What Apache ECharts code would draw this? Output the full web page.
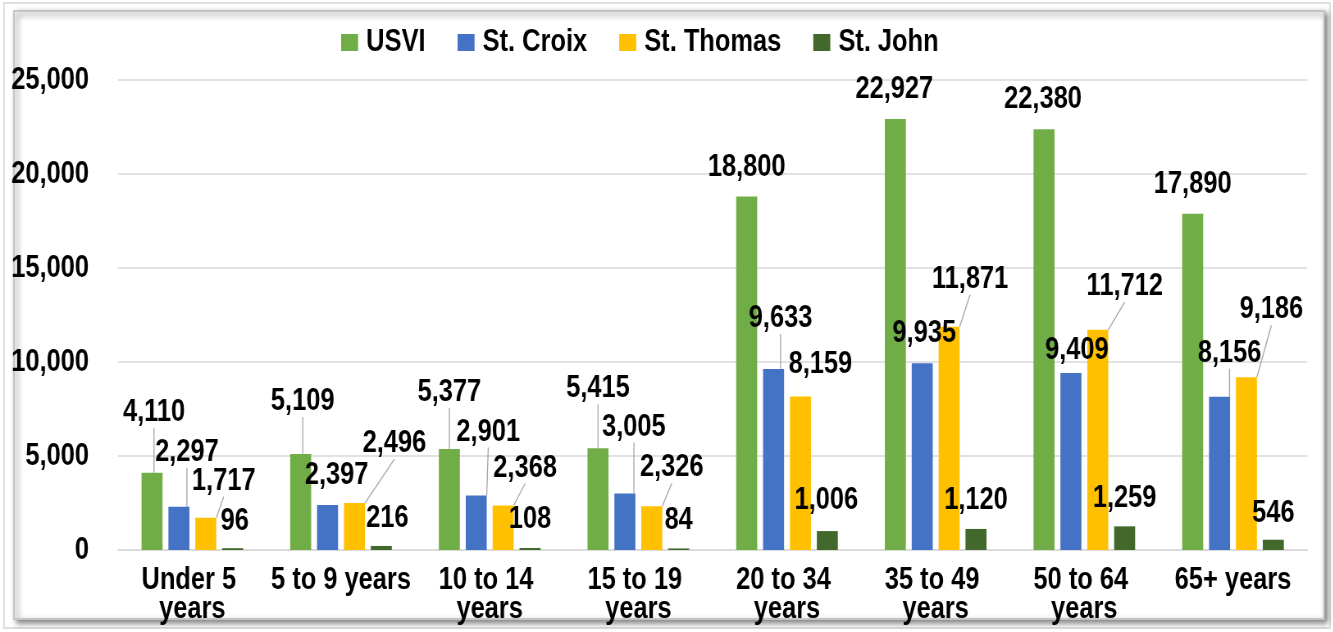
<!DOCTYPE html>
<html>
<head>
<meta charset="utf-8">
<script src="https://cdn.jsdelivr.net/npm/echarts@6/dist/echarts.min.js"></script>
<style>
  html, body { margin: 0; padding: 0; background: #fff; overflow: hidden; }
  #main { height: 632px; transform-origin: 0 0; }
</style>
</head>
<body>
<div id="main"></div>
<script>
var categories = ['Under 5 years', '5 to 9 years', '10 to 14 years', '15 to 19 years',
                  '20 to 34 years', '35 to 49 years', '50 to 64 years', '65+ years'];
var seriesNames = ['USVI', 'St. Croix', 'St. Thomas', 'St. John'];
var usvi     = [4110, 5109, 5377, 5415, 18800, 22927, 22380, 17890];
var stCroix  = [2297, 2397, 2901, 3005, 9633, 9935, 9409, 8156];
var stThomas = [1717, 2496, 2368, 2326, 8159, 11871, 11712, 9186];
var stJohn   = [96, 216, 108, 84, 1006, 1120, 1259, 546];
var yTicks   = [0, 5000, 10000, 15000, 20000, 25000];

var colors = ['#70ad47', '#4472c4', '#ffc000', '#43682b'];
var FONT = "'Liberation Sans', Arial, sans-serif";

// no narrow font installed: draw wide and squeeze the whole chart horizontally
// (Arial Narrow is Arial at 82% width)
var SX = 0.82;
function px(v) { return v / SX; }

// how far each data label was dragged away from its bar (dx, dy), screen px
var labelShift = [
    [[2, -33], [2, -25], [0, -29], [0, -32], [0, -2], [-1, -2], [-1, -2], [0, -2]],
    [[8, -27], [9, -2], [12, -36], [9, -39], [7, -23], [2, -2], [6, 5], [10, -16]],
    [[18, -9], [40, -32], [22, -10], [20, -11], [20, -5], [21, -20], [27, -16], [25, -40]],
    [[2, 1], [6, 0], [0, -1], [0, 0], [-1, -3], [0, -1], [0, 0], [0, 1]]
];
// which labels have a leader line back to the bar
var leader = [
    [1, 1, 1, 1, 0, 0, 0, 0],
    [1, 0, 1, 1, 1, 0, 0, 1],
    [1, 1, 1, 1, 0, 1, 1, 1],
    [0, 0, 0, 0, 0, 0, 0, 0]
];

var dom = document.getElementById('main');
dom.style.width = px(1333) + 'px';
dom.style.transform = 'scaleX(' + SX + ')';
var chart = echarts.init(dom);

function makeSeries(name, data, idx) {
    var items = data.map(function (v, i) {
        return { value: v, labelLine: { show: !!leader[idx][i] } };
    });
    return {
        name: name,
        type: 'bar',
        data: items,
        barWidth: px(21),
        barGap: '28%',
        itemStyle: { color: colors[idx] },
        label: {
            show: true,
            position: 'top',
            distance: 12,
            color: '#000',
            fontFamily: FONT,
            fontWeight: 'bold',
            fontSize: 31,
            lineHeight: 31,
            formatter: function (p) { return p.value.toLocaleString('en-US'); }
        },
        labelLine: {
            show: true,
            lineStyle: { color: '#a6a6a6', width: 1.3 }
        },
        labelLayout: function (p) {
            var s = labelShift[p.seriesIndex][p.dataIndex];
            return { dx: px(s[0]), dy: s[1] };
        }
    };
}

var option = {
    backgroundColor: '#fff',
    animation: false,
    graphic: [
        {
            type: 'rect', z: -20,
            shape: { x: px(4), y: 3, width: px(1326), height: 625 },
            style: { fill: '#fff', stroke: '#d4d4d4', lineWidth: 1.5 }
        },
        {
            type: 'rect', z: -10,
            shape: { x: px(14), y: 11, width: px(1310), height: 608 },
            style: {
                fill: '#fff', stroke: '#c4c4c4', lineWidth: 2,
                shadowBlur: 6, shadowColor: 'rgba(0,0,0,0.5)',
                shadowOffsetX: px(3), shadowOffsetY: 3
            }
        }
    ],
    legend: {
        data: seriesNames,
        left: px(337),
        top: 22,
        itemWidth: px(17),
        itemHeight: 17,
        itemGap: px(32),
        icon: 'rect',
        textStyle: { fontFamily: FONT, fontWeight: 'bold', fontSize: 31, color: '#000', padding: [0, 0, 0, px(4)] }
    },
    grid: { left: px(118), right: px(26), top: 80, bottom: 82 },
    xAxis: {
        type: 'category',
        data: categories,
        axisLine: { lineStyle: { color: '#d9d9d9', width: 1.5 } },
        axisTick: { show: false },
        axisLabel: {
            interval: 0,
            margin: 16,
            width: px(148),
            overflow: 'break',
            color: '#000',
            fontFamily: FONT,
            fontWeight: 'bold',
            fontSize: 31,
            lineHeight: 29
        }
    },
    yAxis: {
        type: 'value',
        min: yTicks[0],
        max: yTicks[yTicks.length - 1],
        interval: yTicks[1] - yTicks[0],
        axisLine: { show: false },
        axisTick: { show: false },
        splitLine: { lineStyle: { color: '#d9d9d9', width: 1.5 } },
        axisLabel: {
            margin: px(29),
            color: '#000',
            fontFamily: FONT,
            fontWeight: 'bold',
            fontSize: 31,
            formatter: function (v) { return v.toLocaleString('en-US'); }
        }
    },
    series: [
        makeSeries(seriesNames[0], usvi, 0),
        makeSeries(seriesNames[1], stCroix, 1),
        makeSeries(seriesNames[2], stThomas, 2),
        makeSeries(seriesNames[3], stJohn, 3)
    ]
};

chart.setOption(option);
</script>
</body>
</html>
